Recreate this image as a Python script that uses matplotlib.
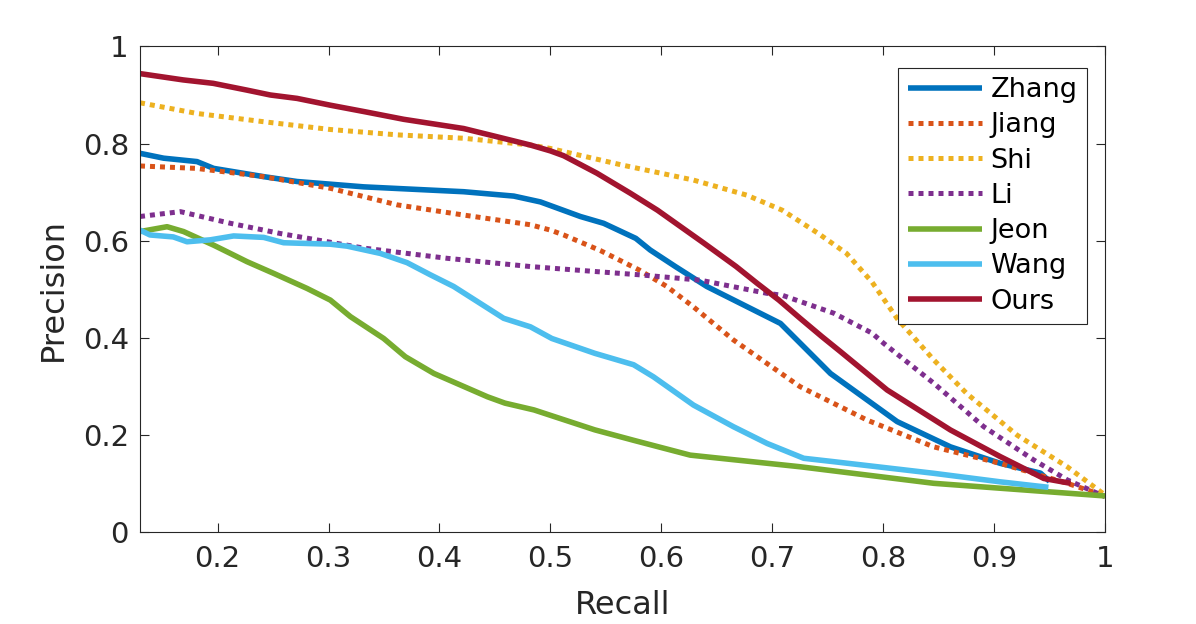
import matplotlib
matplotlib.use("Agg")
import matplotlib.pyplot as plt

plt.rcParams['font.family'] = ['DejaVu Sans']

# ---- data ----
zhang_x = [0.13, 0.1513, 0.1814, 0.1964, 0.2415, 0.2716, 0.3317, 0.3767, 0.4218, 0.467, 0.491, 0.527, 0.548, 0.577, 0.590, 0.6127, 0.641, 0.7074, 0.7525, 0.8126, 0.8607, 0.9057, 0.9418, 0.95]
zhang_y = [0.780, 0.770, 0.763, 0.749, 0.732, 0.722, 0.711, 0.706, 0.701, 0.692, 0.680, 0.650, 0.636, 0.605, 0.581, 0.547, 0.506, 0.430, 0.327, 0.228, 0.176, 0.142, 0.122, 0.105]

jiang_x = [0.13, 0.181, 0.2415, 0.3016, 0.3618, 0.4218, 0.482, 0.5, 0.512, 0.545, 0.580, 0.605, 0.629, 0.665, 0.725, 0.7856, 0.8456, 0.9057, 0.966, 1.0]
jiang_y = [0.754, 0.749, 0.732, 0.708, 0.674, 0.653, 0.633, 0.622, 0.612, 0.580, 0.540, 0.506, 0.464, 0.396, 0.300, 0.231, 0.176, 0.142, 0.101, 0.075]

shi_x = [0.13, 0.1814, 0.2415, 0.3016, 0.3618, 0.4218, 0.482, 0.5, 0.5644, 0.6289, 0.677, 0.709, 0.7416, 0.767, 0.79, 0.8126, 0.8456, 0.8757, 0.9208, 0.966, 1.0]
shi_y = [0.884, 0.862, 0.845, 0.829, 0.818, 0.811, 0.797, 0.790, 0.756, 0.725, 0.694, 0.663, 0.615, 0.574, 0.515, 0.440, 0.355, 0.285, 0.200, 0.135, 0.077]

li_x = [0.13, 0.1664, 0.2115, 0.2565, 0.3317, 0.4068, 0.482, 0.545, 0.5805, 0.635, 0.695, 0.709, 0.7555, 0.79, 0.8005, 0.8456, 0.8907, 0.9358, 0.966, 1.0]
li_y = [0.650, 0.660, 0.636, 0.615, 0.585, 0.564, 0.547, 0.536, 0.530, 0.519, 0.492, 0.488, 0.451, 0.410, 0.389, 0.307, 0.2175, 0.149, 0.108, 0.0735]

jeon_x = [0.13, 0.1544, 0.1693, 0.1964, 0.2115, 0.2265, 0.2505, 0.2806, 0.3016, 0.3197, 0.3497, 0.3692, 0.395, 0.4433, 0.459, 0.4852, 0.540, 0.575, 0.626, 0.7254, 0.8456, 1.0]
jeon_y = [0.619, 0.629, 0.619, 0.591, 0.574, 0.557, 0.533, 0.502, 0.478, 0.444, 0.399, 0.3615, 0.327, 0.279, 0.266, 0.252, 0.211, 0.1895, 0.159, 0.135, 0.101, 0.075]

wang_x = [0.13, 0.139, 0.160, 0.1724, 0.1934, 0.2144, 0.2415, 0.2595, 0.3016, 0.3167, 0.3467, 0.3708, 0.3918, 0.4128, 0.4369, 0.4579, 0.482, 0.5013, 0.540, 0.575, 0.593, 0.629, 0.665, 0.6954, 0.7284, 0.7555, 0.8456, 0.9057, 0.949]
wang_y = [0.622, 0.612, 0.608, 0.598, 0.602, 0.610, 0.607, 0.596, 0.593, 0.589, 0.574, 0.555, 0.530, 0.506, 0.471, 0.4405, 0.423, 0.399, 0.3685, 0.345, 0.320, 0.262, 0.2175, 0.183, 0.1525, 0.1455, 0.1216, 0.104, 0.0928]

ours_x = [0.13, 0.169, 0.196, 0.2265, 0.2475, 0.2716, 0.3016, 0.3317, 0.3677, 0.4218, 0.452, 0.482, 0.5, 0.512, 0.542, 0.572, 0.5965, 0.6385, 0.6675, 0.6864, 0.706, 0.7254, 0.7447, 0.7615, 0.8036, 0.8607, 0.9057, 0.9448, 0.969]
ours_y = [0.944, 0.931, 0.924, 0.910, 0.900, 0.893, 0.879, 0.866, 0.850, 0.831, 0.814, 0.797, 0.785, 0.775, 0.739, 0.698, 0.663, 0.595, 0.547, 0.5125, 0.478, 0.440, 0.403, 0.372, 0.293, 0.2107, 0.1558, 0.111, 0.101]

x_ticks = [0.2, 0.3, 0.4, 0.5, 0.6, 0.7, 0.8, 0.9, 1.0]
x_tick_labels = ["0.2", "0.3", "0.4", "0.5", "0.6", "0.7", "0.8", "0.9", "1"]
y_ticks = [0, 0.2, 0.4, 0.6, 0.8, 1.0]
y_tick_labels = ["0", "0.2", "0.4", "0.6", "0.8", "1"]

series = [
    ("Zhang", zhang_x, zhang_y, "#0072BD", "solid"),
    ("Jiang", jiang_x, jiang_y, "#D95319", "dotted"),
    ("Shi", shi_x, shi_y, "#EDB120", "dotted"),
    ("Li", li_x, li_y, "#7E2F8E", "dotted"),
    ("Jeon", jeon_x, jeon_y, "#77AC30", "solid"),
    ("Wang", wang_x, wang_y, "#4DBEEE", "solid"),
    ("Ours", ours_x, ours_y, "#A2142F", "solid"),
]

fig = plt.figure(figsize=(11.96, 6.24), dpi=100)
ax = fig.add_axes([140/1196, 1-532.4/624, 965/1196, 486/624])

axis_col = "#262626"
for name, xs, ys, col, style in series:
    if style == "dotted":
        ax.plot(xs, ys, color=col, lw=3.6, linestyle=(0, (1, 1)),
                dash_capstyle="butt", label=name)
    else:
        ax.plot(xs, ys, color=col, lw=4.0, solid_capstyle="butt",
                solid_joinstyle="round", label=name)

ax.set_xlim(0.13, 1.0)
ax.set_ylim(0, 1)
ax.set_xticks(x_ticks)
ax.set_xticklabels(x_tick_labels)
ax.set_yticks(y_ticks)
ax.set_yticklabels(y_tick_labels)
ax.tick_params(direction="in", length=6.5, width=0.8, color=axis_col,
               labelcolor=axis_col, labelsize=21, top=True, right=True)
ax.tick_params(axis="x", pad=9)
ax.tick_params(axis="y", pad=8)
for sp in ax.spines.values():
    sp.set_color(axis_col)
    sp.set_linewidth(0.8)

ax.set_xlabel("Recall", fontsize=23, color=axis_col, labelpad=12)
ax.set_ylabel("Precision", fontsize=23, color=axis_col, labelpad=10)

leg = ax.legend(loc="upper right", bbox_to_anchor=(0.9813, 0.956),
                fontsize=19.5, handlelength=2.75, handletextpad=0.3,
                labelspacing=0.34, borderpad=0.35, borderaxespad=0,
                frameon=True, fancybox=False, framealpha=1)
leg.get_frame().set_edgecolor(axis_col)
leg.get_frame().set_linewidth(0.8)
for t in leg.get_texts():
    t.set_color("black")

fig.savefig("out.png", dpi=100)
